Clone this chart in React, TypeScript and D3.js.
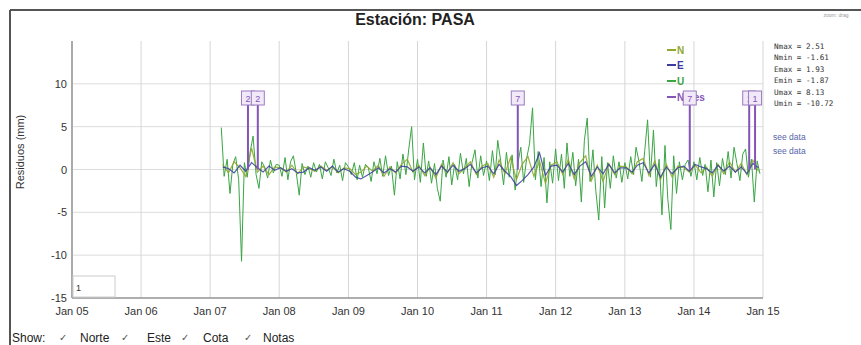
import React from "react";
import * as d3 from "d3";

// ---- data ----
const title = "Estación: PASA";
const yTicks = [-15, -10, -5, 0, 5, 10];
const xTickYears = [2005, 2006, 2007, 2008, 2009, 2010, 2011, 2012, 2013, 2014, 2015];

// U residuals, two samples per month from Mar 2007 to Dec 2014
const uValues = [
  // 2007 (Mar-Dec)
  4.9, -0.8, 1.2, -2.8, 0.6, 1.5, -1.2, -10.72, 0.8, -0.9, 2.1, 3.9, -0.6, -2.2, 0.9, 0.3, -1.0, 1.1, -0.4, 0.6,
  // 2008
  0.5, -0.8, 1.4, -1.2, 0.9, 1.6, -0.5, -3.0, 0.7, -0.6, 0.4, -0.9, 0.8, -0.3, 0.6, -1.1, 0.9, 0.2, -0.7, 1.2, -0.4, 0.5, -1.3, 0.8,
  // 2009
  0.3, -0.6, 0.8, -1.2, 0.5, -0.9, 0.6, 0.2, -1.4, 0.9, -0.5, 1.3, -0.8, 1.6, -0.7, 0.4, -3.0, 0.9, -1.1, 1.8, -0.6, 2.4, 5.0, -1.2,
  // 2010
  1.2, -1.5, 3.1, -0.8, 1.0, -1.6, 0.7, -2.2, -3.7, 1.1, -0.9, 1.5, -1.8, 0.6, -1.2, 1.9, -0.5, 1.3, -2.0, 0.8, 2.3, -1.0, 1.6, -0.7,
  // 2011
  1.0, -1.3, 2.2, -0.6, 3.4, 1.1, -1.8, 2.0, -0.9, 1.7, -2.4, 0.8, 2.6, -1.5, 1.3, 3.0, 7.2, -1.2, 2.1, -2.0, 1.4, -3.9, 0.9, -1.6,
  // 2012
  2.4, -1.3, 1.8, -2.2, 3.1, -0.8, 2.0, -1.9, 1.2, -3.8, 3.4, 6.0, -1.4, 2.3, -2.6, -5.9, 1.5, -4.5, 0.8, -2.2, 1.6, -1.0, 0.9, -1.5,
  // 2013
  0.8, -1.1, 1.5, -0.6, 2.6, 1.0, -1.4, 2.2, 5.8, -0.9, 4.6, -2.0, 1.2, -5.3, 2.8, -3.5, -7.0, 1.6, -2.8, 0.9, -1.2, 0.6, 1.1, -0.8,
  // 2014
  0.9, -1.2, 1.4, -0.7, 0.6, -2.6, 1.1, -3.2, 0.8, -1.9, 1.3, -0.6, 2.1, -1.0, 2.6, 0.7, -1.3, 1.8, 2.4, -0.9, 1.2, -3.8, 1.0, -0.5,
];

// N residuals, monthly from Mar 2007 to Dec 2014
const nValues = [
  0.6, -0.4, 0.9, 0.2, -0.8, 2.51, -0.3, 0.4, -0.6, 0.3,
  0.2, -0.3, 0.5, -0.5, 0.3, 0.1, -0.2, 0.4, -0.1, 0.3, -0.4, 0.2,
  0.1, -0.6, -0.3, 0.4, -0.2, 0.5, -0.8, 0.3, -0.4, 0.6, 1.2, -0.3,
  0.5, -0.7, 0.3, -1.0, 0.6, -0.4, 0.8, -0.5, 0.2, 0.9, -0.6, 0.4,
  0.7, -0.9, 1.1, -0.5, 1.4, -1.2, 0.6, 1.5, -0.8, 1.0, -1.61, 0.5,
  0.9, -0.6, 1.2, -1.1, 0.8, 1.6, -1.3, 0.5, -1.4, 0.7, -0.6, 0.4,
  0.3, -0.5, 0.9, 1.3, -0.7, 1.0, -1.2, 0.6, -0.9, 0.4, 0.2, -0.3,
  0.5, -0.4, 0.3, -0.8, 0.6, -0.5, 0.9, -0.3, 0.7, -0.6, 1.1, -0.2,
];

// E residuals, monthly from Mar 2007 to Dec 2014
const eValues = [
  0.3, 0.1, -0.4, 0.5, -0.2, 0.8, 0.2, -0.3, 0.4, -0.1,
  0.2, -0.2, 0.1, -0.4, -0.3, 0.2, -0.1, 0.3, -0.2, 0.4, -0.3, 0.1,
  -0.2, -0.9, -1.1, -0.7, -0.3, 0.2, -0.4, 0.1, -0.3, 0.4, 0.3, -0.2,
  0.3, -0.4, 0.2, -0.6, 0.4, -0.3, 0.5, -0.2, 0.1, 0.6, -0.4, 0.2,
  0.4, -0.5, 0.6, -0.2, -0.8, -1.87, -1.3, -0.6, 0.3, 1.93, -0.7, 0.4,
  0.5, -0.3, 0.7, -0.6, 0.4, 0.9, -0.8, 0.3, -0.5, 0.6, -0.4, 0.2,
  0.2, -0.3, 0.5, 0.8, -0.4, 0.6, -0.9, 0.3, -0.5, 0.2, 0.4, -0.2,
  0.6, 0.3, 0.1, -0.4, 0.5, -0.2, 0.4, -0.3, 0.3, -0.5, 0.7, 0.2,
];

// Notes (annotations)
const noteDates = ["2007-07-20", "2007-09-10", "2011-06-15", "2013-12-10", "2014-10-20", "2014-11-20"];
const noteLabels = ["2", "2", "7", "7", "1", "1"];

const legendNames = ["N", "E", "U", "Notes"];
const statLabels = ["Nmax = 2.51", "Nmin = -1.61", "Emax = 1.93", "Emin = -1.87", "Umax = 8.13", "Umin = -10.72"];
const showItems = ["Norte", "Este", "Cota", "Notas"];

// ---- styles ----
const COL_N = "#8fa82e";
const COL_E = "#3a3c9e";
const COL_U = "#3aa544";
const COL_NOTE = "#8455b8";
const FONT = "'Liberation Sans', Arial, sans-serif";

const semiMonthDate = (i: number) => new Date(2007, 2 + Math.floor(i / 2), i % 2 ? 16 : 1);
const monthDate = (i: number) => new Date(2007, 2 + i, 8);

export default function App() {
  const W = 861, H = 345;
  const left = 72, right = 763, top = 41, bottom = 298;

  const x = d3.scaleTime().domain([new Date(2005, 0, 1), new Date(2015, 0, 1)]).range([left, right]);
  const y = d3.scaleLinear().domain([-15, 15]).range([bottom, top]);

  const line = d3.line<[Date, number]>().x((d) => x(d[0])).y((d) => y(d[1]));
  const uPath = line(uValues.map((v, i) => [semiMonthDate(i), v] as [Date, number])) || "";
  const nPath = line(nValues.map((v, i) => [monthDate(i), v] as [Date, number])) || "";
  const ePath = line(eValues.map((v, i) => [monthDate(i), v] as [Date, number])) || "";

  const fmt = d3.timeFormat("Jan %y");
  const xTicks = xTickYears.map((yr) => new Date(yr, 0, 1));

  const legendX = 667;
  const legendY = [50, 65, 81, 97];
  const legendCols = [COL_N, COL_E, COL_U, COL_NOTE];

  const showX = [63, 80, 125, 147, 185, 203, 248, 263];

  return (
    <svg width={W} height={H} style={{ position: "absolute", left: 0, top: 0, background: "#fff" }} fontFamily={FONT}>
      {/* outer frame */}
      <line x1={10} y1={10} x2={W} y2={10} stroke="#555" strokeWidth={2} />
      <line x1={10} y1={10} x2={10} y2={H} stroke="#555" strokeWidth={2} />

      {/* title */}
      <text x={415} y={25} textAnchor="middle" fontSize={16} fontWeight="bold" fill="#222">{title}</text>
      <text x={836} y={17} textAnchor="middle" fontSize={5} fill="#999">zoom: drag</text>

      {/* grid */}
      {yTicks.map((t) => (
        <line key={"gy" + t} x1={left} x2={right} y1={y(t)} y2={y(t)} stroke="#dcdcdc" strokeWidth={1} />
      ))}
      {xTicks.map((d, i) => (
        <line key={"gx" + i} x1={x(d)} x2={x(d)} y1={top} y2={bottom} stroke="#d6d6d6" strokeWidth={1} />
      ))}

      {/* axes */}
      <line x1={left} x2={left} y1={top} y2={bottom} stroke="#aaa" strokeWidth={2} />
      <line x1={left} x2={right} y1={bottom} y2={bottom} stroke="#999" strokeWidth={1.5} />

      {/* y tick labels */}
      {yTicks.map((t) => (
        <text key={"yl" + t} x={67} y={y(t) + 4} textAnchor="end" fontSize={11} fill="#333">{t}</text>
      ))}
      {/* x tick labels */}
      {xTicks.map((d, i) => (
        <text key={"xl" + i} x={x(d)} y={315} textAnchor="middle" fontSize={11} fill="#333">{fmt(d)}</text>
      ))}

      {/* y axis title */}
      <text transform={`translate(24,152) rotate(-90)`} textAnchor="middle" fontSize={11} fill="#333">Residuos (mm)</text>

      {/* series */}
      <path d={uPath} fill="none" stroke={COL_U} strokeWidth={1} />
      <path d={nPath} fill="none" stroke={COL_N} strokeWidth={1.2} opacity={0.9} />
      <path d={ePath} fill="none" stroke={COL_E} strokeWidth={1.2} opacity={0.85} />

      {/* note lines */}
      {noteDates.map((s, i) => {
        const xx = x(new Date(s));
        return <line key={"nl" + i} x1={xx} x2={xx} y1={104} y2={y(0)} stroke={COL_NOTE} strokeWidth={2} />;
      })}

      {/* legend */}
      {legendNames.map((n, i) => (
        <g key={"lg" + n}>
          <line x1={legendX} x2={legendX + 9} y1={legendY[i]} y2={legendY[i]} stroke={legendCols[i]} strokeWidth={2} />
          <text x={legendX + 10} y={legendY[i] + 4} fontSize={10} fontWeight="bold" fill={legendCols[i]}>{n}</text>
        </g>
      ))}

      {/* note boxes */}
      {noteDates.map((s, i) => {
        const xx = x(new Date(s));
        return (
          <g key={"nb" + i}>
            <rect x={xx - 6.5} y={91} width={13} height={14} fill="#f1e8f8" stroke="#9a7cc0" strokeWidth={1} />
            <text x={xx} y={102} textAnchor="middle" fontSize={9} fill={COL_NOTE}>{noteLabels[i]}</text>
          </g>
        );
      })}

      {/* stats */}
      {statLabels.map((s, i) => (
        <text key={"st" + i} x={774} y={49 + i * 11.4} fontSize={7.6} fontFamily="'DejaVu Sans Mono', monospace" fill="#333">{s}</text>
      ))}
      <text x={773} y={140} fontSize={8.5} fill="#5566aa">see data</text>
      <text x={773} y={154} fontSize={8.5} fill="#5566aa">see data</text>

      {/* range box */}
      <rect x={73} y={276} width={42} height={21} fill="#fff" stroke="#ccc" strokeWidth={1} />
      <text x={76} y={291} fontSize={9} fill="#333">1</text>

      {/* show row */}
      <text x={12} y={342} fontSize={12} fill="#222">Show:</text>
      {showItems.map((s, i) => (
        <g key={"sh" + s}>
          <text x={showX[i * 2]} y={341} fontSize={10} textAnchor="middle" fill="#555">✓</text>
          <text x={showX[i * 2 + 1]} y={342} fontSize={12} fill="#222">{s}</text>
        </g>
      ))}
    </svg>
  );
}
